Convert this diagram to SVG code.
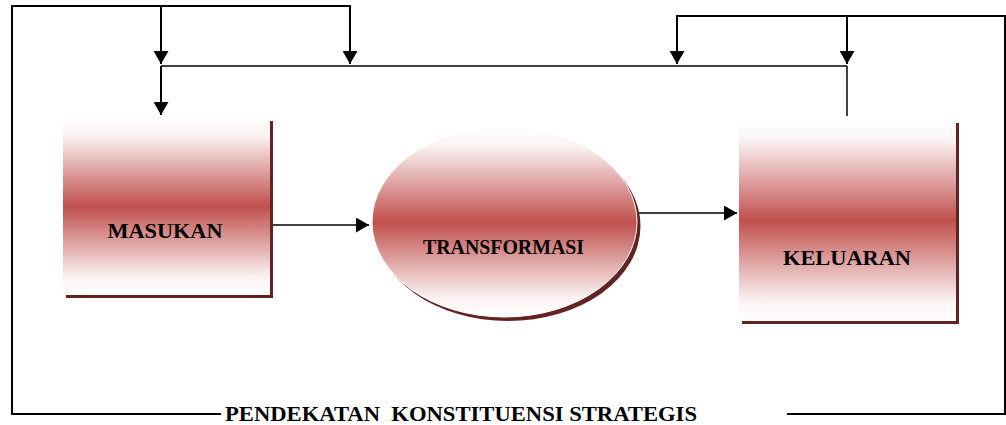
<svg xmlns="http://www.w3.org/2000/svg" width="1006" height="425" viewBox="0 0 1006 425">
<style>
.ln{fill:none;stroke:#000;stroke-width:2}
.thin{fill:none;stroke:#000;stroke-width:1.5}
.lbl{font-family:"Liberation Serif","Times New Roman",serif;font-weight:bold;font-size:21px;fill:#000;text-anchor:middle;white-space:pre}
.shadow{fill:#622423}
</style>
<defs>
<linearGradient id="g" x1="0" y1="0" x2="0" y2="1">
<stop offset="0" stop-color="#ffffff"/>
<stop offset="0.1" stop-color="#fbf3f3"/>
<stop offset="0.5" stop-color="#c0504d"/>
<stop offset="0.9" stop-color="#fbf3f3"/>
<stop offset="1" stop-color="#ffffff"/>
</linearGradient>
<marker id="ah" markerUnits="userSpaceOnUse" markerWidth="14" markerHeight="15" refX="13" refY="7.5" orient="auto">
<path d="M0,0 L13,7.5 L0,15 Z" fill="#000"/>
</marker>
</defs>
<g id="connectors">
<polyline class="ln" points="221,414 12,414 12,6 350,6 350,64" marker-end="url(#ah)"/>
<line class="ln" x1="161" y1="6" x2="161" y2="64" marker-end="url(#ah)"/>
<line class="thin" x1="161" y1="66" x2="847" y2="66"/>
<line class="ln" x1="161" y1="66" x2="161" y2="115" marker-end="url(#ah)"/>
<polyline class="ln" points="787,414 1005,414 1005,16 677,16 677,64" marker-end="url(#ah)"/>
<line class="ln" x1="847" y1="16" x2="847" y2="64" marker-end="url(#ah)"/>
<line class="thin" x1="847" y1="66" x2="847" y2="116"/>
<line class="thin" x1="272" y1="225" x2="369" y2="225" marker-end="url(#ah)"/>
<line class="thin" x1="638" y1="213" x2="737" y2="213" marker-end="url(#ah)"/>
<text class="lbl" x="461" y="421" textLength="472" lengthAdjust="spacingAndGlyphs" xml:space="preserve">PENDEKATAN  KONSTITUENSI STRATEGIS</text>
</g>
<g id="masukan">
<rect class="shadow" x="66" y="121" width="207" height="177"/>
<rect x="63" y="118" width="207" height="177" fill="url(#g)"/>
<text class="lbl" x="165" y="238" textLength="115" lengthAdjust="spacingAndGlyphs">MASUKAN</text>
</g>
<g id="transformasi">
<ellipse class="shadow" cx="508" cy="226" rx="132.5" ry="95"/>
<ellipse cx="504.5" cy="222" rx="132.5" ry="95" fill="url(#g)" stroke="#ffffff" stroke-width="1"/>
<text class="lbl" x="503.5" y="254" textLength="161" lengthAdjust="spacingAndGlyphs">TRANSFORMASI</text>
</g>
<g id="keluaran">
<rect class="shadow" x="742" y="123" width="217" height="201"/>
<rect x="739" y="120" width="217" height="201" fill="url(#g)"/>
<text class="lbl" x="847" y="265" textLength="128" lengthAdjust="spacingAndGlyphs">KELUARAN</text>
</g>
</svg>
